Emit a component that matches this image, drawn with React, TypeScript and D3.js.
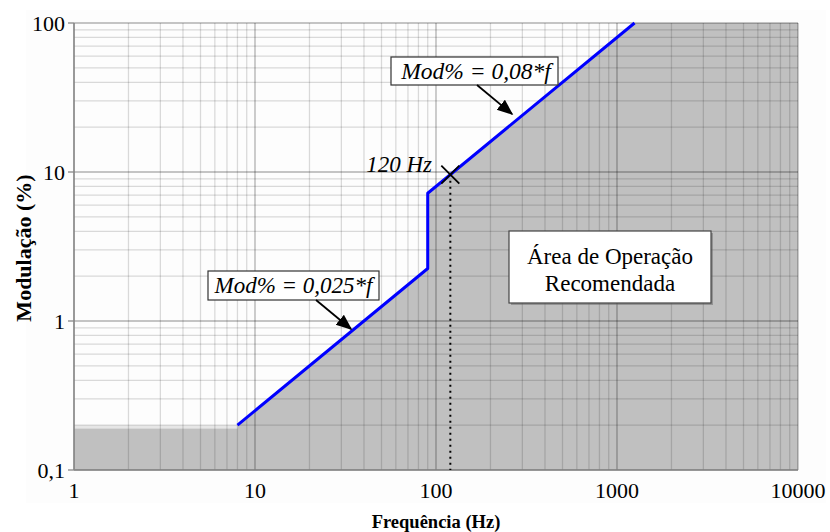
import React from 'react'
import * as d3 from 'd3'

const width = 830
const height = 532
const margin = { top: 23, right: 32, bottom: 62, left: 74 }

// axis ticks
const xTicks = [1, 10, 100, 1000, 10000]
const xTickLabels = ['1', '10', '100', '1000', '10000']
const yTicks = [0.1, 1, 10, 100]
const yTickLabels = ['0,1', '1', '10', '100']

// limit curve (blue): Mod% = 0,025*f up to 90 Hz, then Mod% = 0,08*f
const limitFreq = [8, 90, 90, 1250]
const limitMod = [0.2, 2.25, 7.2, 100]

// floor of the recommended area at low frequency
const floorFreq = [1, 8]
const floorMod = [0.19, 0.19]

const markerFreq = 120
const markerMod = 9.6

export default function App() {
  const x = d3.scaleLog().domain([1, 10000]).range([margin.left, width - margin.right])
  const y = d3.scaleLog().domain([0.1, 100]).range([height - margin.bottom, margin.top])
  const [x0, x1] = x.range()
  const [y0, y1] = y.range()

  const xGrid: number[] = []
  for (let d = 1; d < 10000; d *= 10) for (let k = 1; k < 10; k++) xGrid.push(d * k)
  xGrid.push(10000)
  const yGrid: number[] = []
  for (let d = 0.1; d < 99; d *= 10) for (let k = 1; k < 10; k++) yGrid.push(+(d * k).toFixed(3))
  yGrid.push(100)
  const isMajor = (v: number) => Math.abs(Math.log10(v) - Math.round(Math.log10(v))) < 1e-6

  const line = d3.line<[number, number]>().x(d => x(d[0])).y(d => y(d[1]))
  const limitPts: [number, number][] = limitFreq.map((f, i) => [f, limitMod[i]])

  const areaPts: [number, number][] = [
    [1, 0.1],
    [floorFreq[0], floorMod[0]],
    [floorFreq[1], floorMod[1]],
    ...limitPts,
    [10000, 100],
    [10000, 0.1],
  ]
  const bandPts: [number, number][] = [
    [floorFreq[0], floorMod[0]],
    [floorFreq[1], floorMod[1]],
    [limitFreq[0], limitMod[0]],
    [floorFreq[0], limitMod[0]],
  ]

  const mx = x(markerFreq)
  const my = y(markerMod)
  const serif = '"Liberation Serif", "DejaVu Serif", serif'

  return (
    <svg width={width} height={height} style={{ position: 'absolute', left: 0, top: 0 }} fontFamily={serif}>
      <defs>
        <marker id="arr" viewBox="0 0 10 10" refX="9" refY="5" markerWidth="9" markerHeight="9" orient="auto">
          <path d="M0,1 L10,5 L0,9 z" fill="#000" />
        </marker>
      </defs>
      <rect x={0} y={0} width={width} height={height} fill="#fff" />
      <rect x={26} y={10} width={width - 30} height={493} fill="#fdfdfd" />

      {/* recommended area */}
      <path d={line(bandPts) + 'Z'} fill="#e6e6e6" />
      <path d={line(areaPts) + 'Z'} fill="#c0c0c0" />

      {/* grid */}
      {xGrid.map(v => (
        <line key={'gx' + v} x1={x(v)} x2={x(v)} y1={y1} y2={y0} stroke="#000"
          strokeOpacity={isMajor(v) ? 0.3 : 0.14} strokeWidth={1.3} />
      ))}
      {yGrid.map(v => (
        <line key={'gy' + v} x1={x0} x2={x1} y1={y(v)} y2={y(v)} stroke="#000"
          strokeOpacity={isMajor(v) ? 0.3 : 0.14} strokeWidth={1.3} />
      ))}
      <line x1={x0} x2={x1} y1={y0} y2={y0} stroke="#888" strokeWidth={1.5} />
      <line x1={x0} x2={x0} y1={y0} y2={y1} stroke="#888" strokeWidth={1.5} />

      {/* ticks */}
      {yTicks.map((v, i) => (
        <g key={'yt' + v}>
          <line x1={x0 - 6} x2={x0} y1={y(v)} y2={y(v)} stroke="#888" strokeWidth={1.3} />
          <text x={x0 - 9} y={y(v) + 7.5} textAnchor="end" fontSize={22}>{yTickLabels[i]}</text>
        </g>
      ))}
      {xTicks.map((v, i) => (
        <text key={'xt' + v} x={x(v)} y={y0 + 28} textAnchor="middle" fontSize={22}>{xTickLabels[i]}</text>
      ))}

      {/* axis titles */}
      <text x={436} y={528} textAnchor="middle" fontSize={18.5} fontWeight="bold">Frequência (Hz)</text>
      <text transform={`translate(31, 248) rotate(-90)`} textAnchor="middle" fontSize={22} fontWeight="bold">Modulação (%)</text>

      {/* 120 Hz marker */}
      <line x1={mx} x2={mx} y1={my + 6} y2={y0} stroke="#000" strokeWidth={2} strokeDasharray="2,4" />

      {/* limit curve */}
      <path d={line(limitPts) ?? ''} fill="none" stroke="#0000ff" strokeWidth={3} strokeLinejoin="round" />

      <line x1={mx - 9} x2={mx + 9} y1={my - 9} y2={my + 9} stroke="#000" strokeWidth={1.8} />
      <line x1={mx - 9} x2={mx + 9} y1={my + 9} y2={my - 9} stroke="#000" strokeWidth={1.8} />
      <text x={432} y={my - 3} textAnchor="end" fontSize={23} fontStyle="italic">120 Hz</text>

      {/* annotations */}
      <rect x={391} y={57} width={167} height={28} fill="#fff" stroke="#333" strokeWidth={1.2} />
      <text x={476} y={79} textAnchor="middle" fontSize={23.5} fontStyle="italic">Mod% = 0,08*f</text>
      <line x1={477} y1={85} x2={512} y2={114} stroke="#000" strokeWidth={1.8} markerEnd="url(#arr)" />

      <rect x={208} y={271} width={171} height={29} fill="#fff" stroke="#333" strokeWidth={1.2} />
      <text x={293.5} y={293} textAnchor="middle" fontSize={23} fontStyle="italic">Mod% = 0,025*f</text>
      <line x1={316} y1={300} x2={351} y2={329} stroke="#000" strokeWidth={1.8} markerEnd="url(#arr)" />

      <rect x={511} y={233} width={202} height={72} fill="#666" opacity={0.5} />
      <rect x={509} y={231} width={202} height={72} fill="#fff" stroke="#444" strokeWidth={1.2} />
      <text x={610} y={264} textAnchor="middle" fontSize={23}>Área de Operação</text>
      <text x={610} y={291} textAnchor="middle" fontSize={23}>Recomendada</text>
    </svg>
  )
}
